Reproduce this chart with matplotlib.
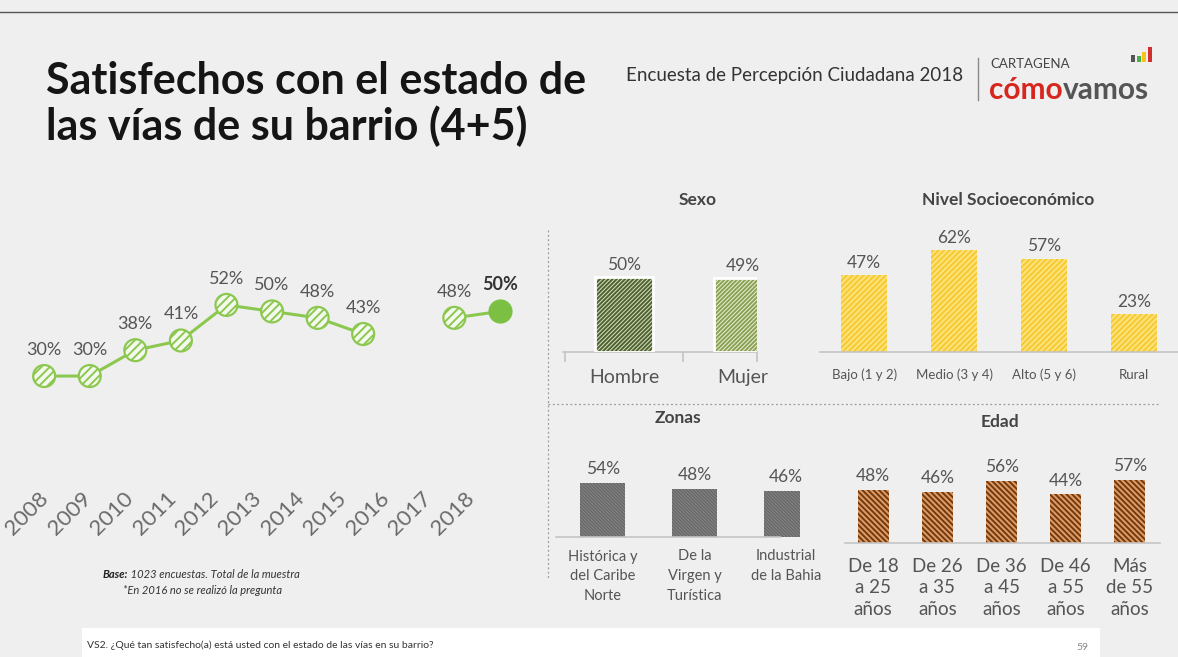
import matplotlib
matplotlib.use("Agg")
import matplotlib.pyplot as plt
from matplotlib.patches import Rectangle
from matplotlib.lines import Line2D
import numpy as np

# ---------------- data ----------------
years = [2008, 2009, 2010, 2011, 2012, 2013, 2014, 2015, 2016, 2017, 2018]
trend = [30, 30, 38, 41, 52, 50, 48, 43, np.nan, 48, 50]

sexo_cats = ["Hombre", "Mujer"]
sexo_vals = [50, 49]

nivel_cats = ["Bajo (1 y 2)", "Medio (3 y 4)", "Alto (5 y 6)", "Rural"]
nivel_vals = [47, 62, 57, 23]

zonas_cats = ["Histórica y\ndel Caribe\nNorte", "De la\nVirgen y\nTurística", "Industrial\nde la Bahia"]
zonas_vals = [54, 48, 46]

edad_cats = ["De 18\na 25\naños", "De 26\na 35\naños", "De 36\na 45\naños", "De 46\na 55\naños", "Más\nde 55\naños"]
edad_vals = [48, 46, 56, 44, 57]

# ---------------- figure ----------------
W, H = 1178, 657
plt.rcParams['font.family'] = ['Lato', 'DejaVu Sans']
plt.rcParams['hatch.linewidth'] = 1.4
fig = plt.figure(figsize=(W / 100, H / 100), dpi=100)
fig.patch.set_facecolor('#efefef')

def fx(x):
    return x / W

def fy(y):
    return 1 - y / H

def px_ax(l, t, r, b):
    ax = fig.add_axes([l / W, 1 - b / H, (r - l) / W, (b - t) / H])
    ax.patch.set_alpha(0)
    return ax

# full-figure overlay axes for text placement relative to other texts
ov = fig.add_axes([0, 0, 1, 1])
ov.axis('off')
ov.patch.set_alpha(0)

# decorations
fig.add_artist(Line2D([0, 1], [fy(12), fy(12)], color='#555555', lw=1, transform=fig.transFigure))
fig.add_artist(Rectangle((fx(82), 0), fx(1100) - fx(82), fy(628), transform=fig.transFigure,
                         facecolor='white', edgecolor='none', zorder=0))

TXT = '#555555'

# title
fig.text(fx(46), fy(104), "Satisfechos con el estado de\nlas vías de su barrio (4+5)",
         fontsize=31, fontweight='bold', color='#151515', ha='left', va='center',
         linespacing=1.1)
# header
fig.text(fx(626), fy(76), "Encuesta de Percepción Ciudadana 2018", fontsize=13.5,
         color='#333333', ha='left', va='center')
fig.add_artist(Line2D([fx(978), fx(978)], [fy(58), fy(100)], color='#888888', lw=1,
                      transform=fig.transFigure))
fig.text(fx(990), fy(64), "CARTAGENA", fontsize=9.5, color='#444444', ha='left',
         va='center')
t1 = fig.text(fx(989), fy(99), "cómo", fontsize=21.5, fontweight='bold', color='#d7261e',
              ha='left', va='baseline')
ov.annotate("vamos", xy=(1, 0), xycoords=t1, xytext=(0, 0), textcoords='offset points',
            fontsize=21.5, fontweight='bold', color='#555555', ha='left', va='bottom',
            annotation_clip=False)
logo_cols = ['#555555', '#4caf50', '#f5c518', '#d32f2f']
logo_h = [7, 6, 10, 15]
for i, (c, h) in enumerate(zip(logo_cols, logo_h)):
    x0 = 1131 + i * 5.5
    fig.add_artist(Rectangle((fx(x0), fy(62)), 4 / W, h / H, transform=fig.transFigure,
                             facecolor=c, edgecolor='none'))

# ---------------- line chart ----------------
ax = px_ax(20, 250, 530, 420)
ax.set_xlim(2007.47, 2018.66)
ax.set_ylim(16.4, 69)
ax.axis('off')
GREEN = '#8cc850'
ax.plot(years, trend, color=GREEN, lw=2.2, zorder=2)
yrs_h = [y for y, v in zip(years[:-1], trend[:-1]) if not np.isnan(v)]
val_h = [v for v in trend[:-1] if not np.isnan(v)]
ax.scatter(yrs_h, val_h, s=250, facecolor='#f4f9ee', edgecolor=GREEN, linewidth=1.6,
           hatch='////', zorder=3)
ax.scatter([years[-1]], [trend[-1]], s=250, facecolor='#7cc043', edgecolor='#7cc043',
           linewidth=1.6, zorder=3)
for i, (y, v) in enumerate(zip(years, trend)):
    if np.isnan(v):
        continue
    last = i == len(years) - 1
    ax.annotate(f"{v:.0f}%", (y, v), xytext=(0, 13), textcoords='offset points',
                ha='center', va='bottom', fontsize=13,
                fontweight='bold' if last else 'normal',
                color='#333333' if last else TXT)

# year labels
for i, y in enumerate(years):
    fig.text(fx(27 + i * 42.6), fy(514), str(y), rotation=45, fontsize=16, color='#6a6a6a',
             ha='center', va='center')

# notes
tb = fig.text(fx(103), fy(578), "Base:", fontsize=8, fontweight='bold', style='italic',
              color='#222222', ha='left', va='baseline')
ov.annotate(" 1023 encuestas. Total de la muestra", xy=(1, 0), xycoords=tb,
            fontsize=8, style='italic', color='#333333', ha='left', va='bottom',
            annotation_clip=False)
fig.text(fx(123), fy(594), "*En 2016 no se realizó la pregunta", fontsize=8,
         style='italic', color='#333333', ha='left', va='baseline')
fig.text(fx(87), fy(645), "VS2. ¿Qué tan satisfecho(a) está usted con el estado de las vías en su barrio?",
         fontsize=7.5, color='#333333', ha='left', va='center')
fig.text(fx(1082), fy(648), "59", fontsize=7.5, color='#888888', ha='center', va='center')

# separators
fig.add_artist(Line2D([fx(548), fx(548)], [fy(230), fy(580)], color='#9a9a9a', lw=0.9,
                      ls=(0, (1.5, 2)), transform=fig.transFigure))
fig.add_artist(Line2D([fx(548), fx(1160)], [fy(404), fy(404)], color='#9a9a9a', lw=0.9,
                      ls=(0, (1.5, 2)), transform=fig.transFigure))

# ---------------- bar panels ----------------
def bar_panel(rect, cats, vals, xlim, ylim, width, faces, hatch_cols, hatch,
              label_fs, label_pad, val_fs, val_off, linespacing=1.2, white_edge=False,
              spine_bounds=None, minor=None):
    a = px_ax(*rect)
    a.set_xlim(*xlim)
    a.set_ylim(*ylim)
    x = np.arange(len(cats))
    a.bar(x, vals, width=width, color=faces, edgecolor=hatch_cols, linewidth=0,
          hatch=hatch, zorder=2)
    if white_edge:
        a.bar(x, vals, width=width, fill=False, edgecolor='white', linewidth=2, zorder=3)
    for xi, v in zip(x, vals):
        a.annotate(f"{v}%", (xi, v), xytext=(0, val_off), textcoords='offset points',
                   ha='center', va='bottom', fontsize=val_fs, color=TXT)
    for s in ['top', 'left', 'right']:
        a.spines[s].set_visible(False)
    a.spines['bottom'].set_color('#c4c4c4')
    a.spines['bottom'].set_linewidth(1.2)
    if spine_bounds:
        a.spines['bottom'].set_bounds(*spine_bounds)
    a.set_yticks([])
    a.set_xticks(x)
    a.set_xticklabels(cats, fontsize=label_fs, color=TXT, linespacing=linespacing)
    a.tick_params(axis='x', length=0, pad=label_pad)
    if minor is not None:
        a.set_xticks(minor, minor=True)
        a.tick_params(axis='x', which='minor', length=7, color='#c4c4c4', width=1.2)
    return a

BS = '\\'
# Sexo
bar_panel((563, 230, 757, 352), sexo_cats, sexo_vals, (-0.513, 1.118), (0, 81.3), 0.48,
          ['#d6dfbd', '#eaf0d6'], ['#4f6232', '#8aa154'], '/' * 8,
          14, 12, 12.5, 3, white_edge=True, minor=[-0.5, 0.5, 1.118])
fig.text(fx(698), fy(200), "Sexo", fontsize=12.5, fontweight='bold', color='#444444',
         ha='center', va='center')

# Nivel socioeconómico
bar_panel((820, 230, 1178, 352), nivel_cats, nivel_vals, (-0.49, 3.49), (0, 74.4), 0.51,
          '#fde37e', '#f6c92f', '/' * 6, 9.5, 12, 12.5, 3)
fig.text(fx(1008), fy(200), "Nivel Socioeconómico", fontsize=12.5, fontweight='bold',
         color='#444444', ha='center', va='center')

# Zonas
bar_panel((556, 440, 800, 537), zonas_cats, zonas_vals, (-0.51, 2.15), (0, 97), 0.49,
          '#a3a3a3', '#6a6a6a', BS * 10, 10.5, 9, 12.5, 4, linespacing=1.5,
          spine_bounds=(-0.51, 1.93))
fig.text(fx(678), fy(418), "Zonas", fontsize=12.5, fontweight='bold', color='#444444',
         ha='center', va='center')

# Edad
bar_panel((845, 440, 1160, 543), edad_cats, edad_vals, (-0.44, 4.47), (0, 92.8), 0.48,
          '#dc9d66', '#74380e', BS * 6, 13.5, 11, 12.5, 4, linespacing=1.3)
fig.text(fx(1000), fy(422), "Edad", fontsize=12.5, fontweight='bold', color='#444444',
         ha='center', va='center')

fig.savefig("out.png", dpi=100, facecolor=fig.get_facecolor())
